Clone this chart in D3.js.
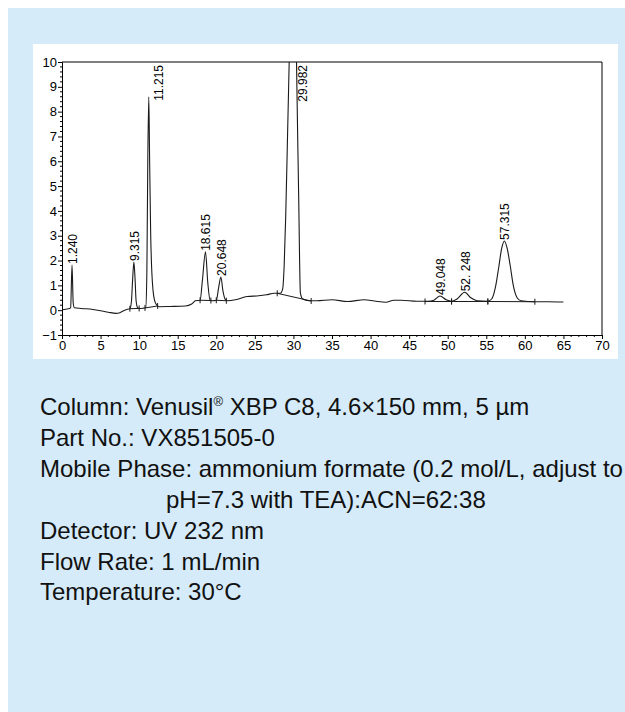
<!DOCTYPE html>
<html><head><meta charset="utf-8">
<script src="https://cdn.jsdelivr.net/npm/d3@7"></script>
<style>
html,body{margin:0;padding:0;background:#fff;}
svg{display:block;}
</style></head><body>
<svg id="c" width="625" height="712"></svg>
<script>
// ---- data ----
const traceTime = [0,0.5,1.0,1.12,1.3,1.45,1.6,2.5,4,5,6,7,7.5,8,8.5,8.8,9.0,9.15,9.32,9.48,9.6,9.8,10.0,10.5,10.85,11.0,11.12,11.25,11.36,11.5,11.65,11.8,12.0,12.3,12.6,14,16,16.8,17.3,17.9,18.2,18.6,18.9,19.2,19.5,20.0,20.3,20.6,20.85,21.2,21.5,22.5,24,25.5,26.5,27.5,28.3,28.6,28.8,29.0,29.2,29.45,29.7,29.98,30.2,30.4,30.55,30.7,30.8,30.9,31.2,32,33,35,37,39.2,40.5,42,43,44,46,47.5,48.2,49.0,49.8,50.5,51.2,52.2,53.0,53.8,55.2,55.7,56.2,56.6,57.0,57.35,57.7,58.1,58.5,59.0,59.5,61.3,63,65];
const traceSignal = [0.02,0.04,0.07,0.1,1.82,0.3,0.1,0.07,0.03,-0.02,-0.08,-0.13,-0.1,-0.02,0.04,0.06,0.35,1.2,1.94,1.2,0.4,0.1,0.07,0.08,0.1,1.5,6.0,8.6,6.0,3.0,1.5,0.8,0.4,0.2,0.14,0.15,0.17,0.25,0.38,0.4,1.2,2.35,1.1,0.4,0.38,0.4,0.9,1.34,0.8,0.42,0.38,0.42,0.55,0.58,0.62,0.68,0.68,0.85,1.8,3.8,6.5,10,13.5,15.5,13.5,10,7,4.2,2.0,0.7,0.45,0.38,0.38,0.42,0.35,0.42,0.37,0.32,0.4,0.4,0.36,0.36,0.4,0.57,0.42,0.36,0.45,0.72,0.5,0.38,0.36,0.45,0.95,1.7,2.5,2.79,2.5,1.8,1.0,0.5,0.38,0.34,0.34,0.33];

const peakLabels  = ["1.240","9.315","11.215","18.615","20.648","29.982","49.048","52. 248","57.315"];
const peakTimes   = [1.3,9.32,11.25,18.6,20.6,29.98,49.0,52.2,57.35];
const peakHeights = [1.82,1.94,8.6,2.35,1.34,15.5,0.57,0.72,2.79];

// integration baseline segments (start time, start value, end time, end value)
const baseStartT = [8.8,10.76,17.9,20.0,27.9,47.06,50.5,55.2];
const baseStartV = [0.06,0.09,0.4,0.4,0.68,0.35,0.35,0.35];
const baseEndT   = [10.0,12.4,19.3,21.3,32.3,50.5,55.2,61.3];
const baseEndV   = [0.07,0.17,0.39,0.38,0.37,0.35,0.35,0.34];

const xTicks = [0,5,10,15,20,25,30,35,40,45,50,55,60,65,70];
const yTicks = [-1,0,1,2,3,4,5,6,7,8,9,10];

const infoLines = [
  "Column: Venusil\u00AE XBP C8, 4.6\u00D7150 mm, 5 \u00B5m",
  "Part No.: VX851505-0",
  "Mobile Phase: ammonium formate (0.2 mol/L, adjust to",
  "pH=7.3 with TEA):ACN=62:38",
  "Detector: UV 232 nm",
  "Flow Rate: 1 mL/min",
  "Temperature: 30\u00B0C"
];

// ---- drawing ----
const svg = d3.select("#c");
const FONT = "Liberation Sans, Arial, sans-serif";

svg.append("rect").attr("x",8).attr("y",8).attr("width",617).attr("height",704).attr("fill","#d5ebf9");
svg.append("rect").attr("x",33).attr("y",44).attr("width",585).attr("height",315).attr("fill","#ffffff");

const L=62, R=602, T=62, B=335;
const x = d3.scaleLinear().domain([0,70]).range([L,R]);
const y = d3.scaleLinear().domain([-1,10]).range([B,T]);

const g = svg.append("g");

// minor ticks
const xMinor = d3.range(0,71,1).filter(v=>v%5!==0);
const yMinor = d3.range(-1,10.001,0.2).map(v=>+v.toFixed(1)).filter(v=>Math.abs(v-Math.round(v))>0.01);

g.append("g").selectAll("line").data(xMinor).join("line")
  .attr("x1",d=>x(d)).attr("x2",d=>x(d)).attr("y1",B).attr("y2",B+2)
  .attr("stroke","#000").attr("stroke-width",1);
g.append("g").selectAll("line").data(yMinor).join("line")
  .attr("x1",L-2).attr("x2",L).attr("y1",d=>y(d)).attr("y2",d=>y(d))
  .attr("stroke","#000").attr("stroke-width",1);

const xAxis = g.append("g").attr("transform",`translate(0,${B})`)
  .call(d3.axisBottom(x).tickValues(xTicks).tickSize(4).tickPadding(2).tickFormat(d3.format("d")));
const yAxis = g.append("g").attr("transform",`translate(${L},0)`)
  .call(d3.axisLeft(y).tickValues(yTicks).tickSize(4).tickPadding(1).tickFormat(d3.format("d")));
[xAxis,yAxis].forEach(a=>{
  a.select(".domain").attr("stroke","#000");
  a.selectAll(".tick line").attr("stroke","#000");
  a.selectAll("text").attr("fill","#000").style("font-family",FONT).style("font-size","13px");
});

// frame top/right
g.append("line").attr("x1",L).attr("x2",R).attr("y1",T).attr("y2",T).attr("stroke","#000");
g.append("line").attr("x1",R).attr("x2",R).attr("y1",T).attr("y2",B).attr("stroke","#000");

// clip
svg.append("clipPath").attr("id","clip").append("rect").attr("x",L).attr("y",T).attr("width",R-L).attr("height",B-T);

const pts = traceTime.map((t,i)=>[t,traceSignal[i]]);
const line = d3.line().x(d=>x(d[0])).y(d=>y(d[1])).curve(d3.curveMonotoneX);
g.append("path").attr("clip-path","url(#clip)").attr("d",line(pts))
  .attr("fill","none").attr("stroke","#1a1a1a").attr("stroke-width",1.1);

// integration baselines and markers
baseStartT.forEach((t0,i)=>{
  g.append("line").attr("x1",x(t0)).attr("y1",y(baseStartV[i]))
    .attr("x2",x(baseEndT[i])).attr("y2",y(baseEndV[i]))
    .attr("stroke","#1a1a1a").attr("stroke-width",1);
  [[t0,baseStartV[i]],[baseEndT[i],baseEndV[i]]].forEach(p=>{
    g.append("line").attr("x1",x(p[0])).attr("x2",x(p[0]))
      .attr("y1",y(p[1])-3).attr("y2",y(p[1])+3)
      .attr("stroke","#1a1a1a").attr("stroke-width",1);
  });
});

// peak labels
peakLabels.forEach((lab,i)=>{
  const tall = peakHeights[i] >= 8;
  const px = tall ? x(peakTimes[i]) + 10 : x(peakTimes[i]) + 1;
  const py = tall ? y(10) + 3 : y(peakHeights[i]) - 1;
  g.append("text")
    .attr("transform",`translate(${px+4},${py}) rotate(-90)`)
    .attr("text-anchor", tall ? "end" : "start")
    .style("font-family",FONT).style("font-size","12px").attr("fill","#000")
    .text(lab);
});

// info text
const tx = 40, ty0 = 415, dy = 30.9;
infoLines.forEach((s,i)=>{
  const t = svg.append("text").attr("x", i===3 ? 166 : tx).attr("y", ty0 + i*dy)
    .style("font-family",FONT).style("font-size","24px").attr("fill","#111");
  if (s.includes("\u00AE")) {
    const parts = s.split("\u00AE");
    t.append("tspan").text(parts[0]);
    t.append("tspan").attr("dy",-9).style("font-size","13px").text("\u00AE");
    t.append("tspan").attr("dy",9).text(parts[1]);
  } else t.text(s);
});
</script>
</body></html>
